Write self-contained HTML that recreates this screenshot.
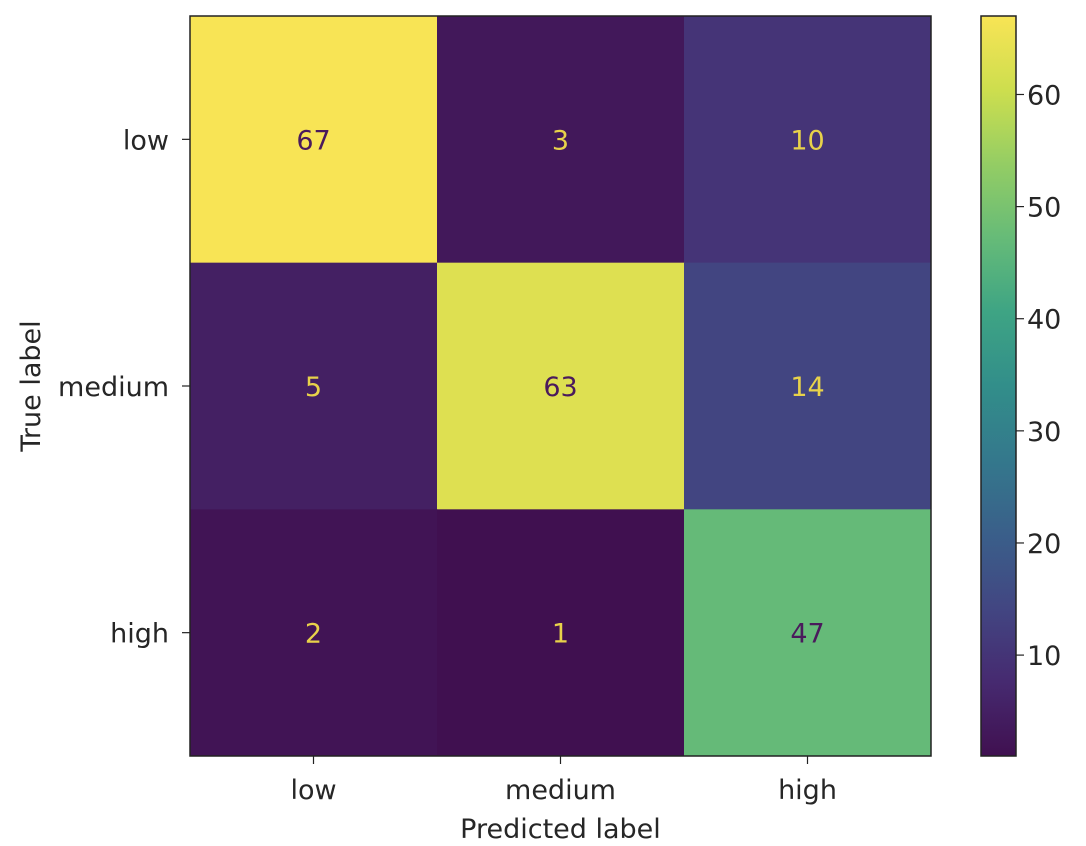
<!DOCTYPE html>
<html><head><meta charset="utf-8"><style>
html,body{margin:0;padding:0;background:#fff;width:1086px;height:846px;overflow:hidden}
svg{display:block}
text{font-family:"DejaVu Sans","Liberation Sans",sans-serif;font-size:27px;fill:#262626}
</style></head><body>
<svg id="chart" width="1086" height="846"></svg>
<script>
const classes = ["low","medium","high"];
const row0 = [67,3,10];
const row1 = [5,63,14];
const row2 = [2,1,47];
const matrix = [row0,row1,row2];
const cbarTicks = [10,20,30,40,50,60];
const vmin = 1, vmax = 67;

const NS="http://www.w3.org/2000/svg";
const svg=document.getElementById('chart');
function mk(tag,attrs,parent){const e=document.createElementNS(NS,tag);for(const k in attrs)e.setAttribute(k,attrs[k]);(parent||svg).appendChild(e);return e;}
const vir=[[64,16,80],[70,42,112],[66,70,130],[58,95,138],[52,120,140],[50,142,138],[62,164,132],[102,187,120],[148,205,100],[205,222,78],[248,228,85]];
function viridis(t){t=Math.max(0,Math.min(1,t));const p=t*(vir.length-1),i=Math.min(Math.floor(p),vir.length-2),f=p-i;const c=vir[i].map((v,k)=>Math.round(v+(vir[i+1][k]-v)*f));return `rgb(${c[0]},${c[1]},${c[2]})`;}
const L=190,T=16,R=931,B=756;
const cw=(R-L)/classes.length,ch=(B-T)/classes.length;
const xc=i=>L+cw*(i+0.5), yc=i=>T+ch*(i+0.5);
const norm=v=>(v-vmin)/(vmax-vmin);

matrix.forEach((row,r)=>row.forEach((v,c)=>{
  const rect=mk('rect',{x:L+cw*c,y:T+ch*r,width:cw+0.5,height:ch+0.5,fill:viridis(norm(v))});
  
  
  const t=mk('text',{x:xc(c),y:yc(r)+10,'text-anchor':'middle'});
  
  
  t.style.fill = norm(v)>0.5 ? '#4a1a5c' : '#e8d24a';
  t.textContent=v;
}));
const frame=mk('rect',{x:L,y:T,width:R-L,height:B-T,fill:'none',stroke:'#222','stroke-width':1.5});



classes.forEach((c,i)=>{
  mk('line',{x1:xc(i),x2:xc(i),y1:B,y2:B+8,stroke:'#222','stroke-width':1.2});
  const tx=mk('text',{x:xc(i),y:B+43,'text-anchor':'middle'});
  
  
  tx.textContent=c;
  mk('line',{x1:L-8,x2:L,y1:yc(i),y2:yc(i),stroke:'#222','stroke-width':1.2});
  const ty=mk('text',{x:L-21,y:yc(i)+10,'text-anchor':'end'});
  
  
  ty.textContent=c;
});
const xt=mk('text',{x:(L+R)/2,y:838,'text-anchor':'middle'});


xt.textContent='Predicted label';
const yt=mk('text',{x:0,y:0,'text-anchor':'middle',transform:`translate(40,${(T+B)/2}) rotate(-90)`});


yt.textContent='True label';

// colorbar
const CL=981,CR=1016;
const defs=mk('defs',{});
const g=mk('linearGradient',{id:'vg',x1:0,y1:1,x2:0,y2:0},defs);
for(let i=0;i<=20;i++) mk('stop',{offset:i/20,'stop-color':viridis(i/20)},g);
const cb=mk('rect',{x:CL,y:T,width:CR-CL,height:B-T,fill:'url(#vg)',stroke:'#222','stroke-width':1.5});


const cy=v=>B-(v-vmin)/(vmax-vmin)*(B-T);
cbarTicks.forEach(v=>{
  mk('line',{x1:CR,x2:CR+8,y1:cy(v),y2:cy(v),stroke:'#222','stroke-width':1.2});
  const t=mk('text',{x:CR+11,y:cy(v)+10});
  
  
  t.textContent=v;
});
</script>
</body></html>
